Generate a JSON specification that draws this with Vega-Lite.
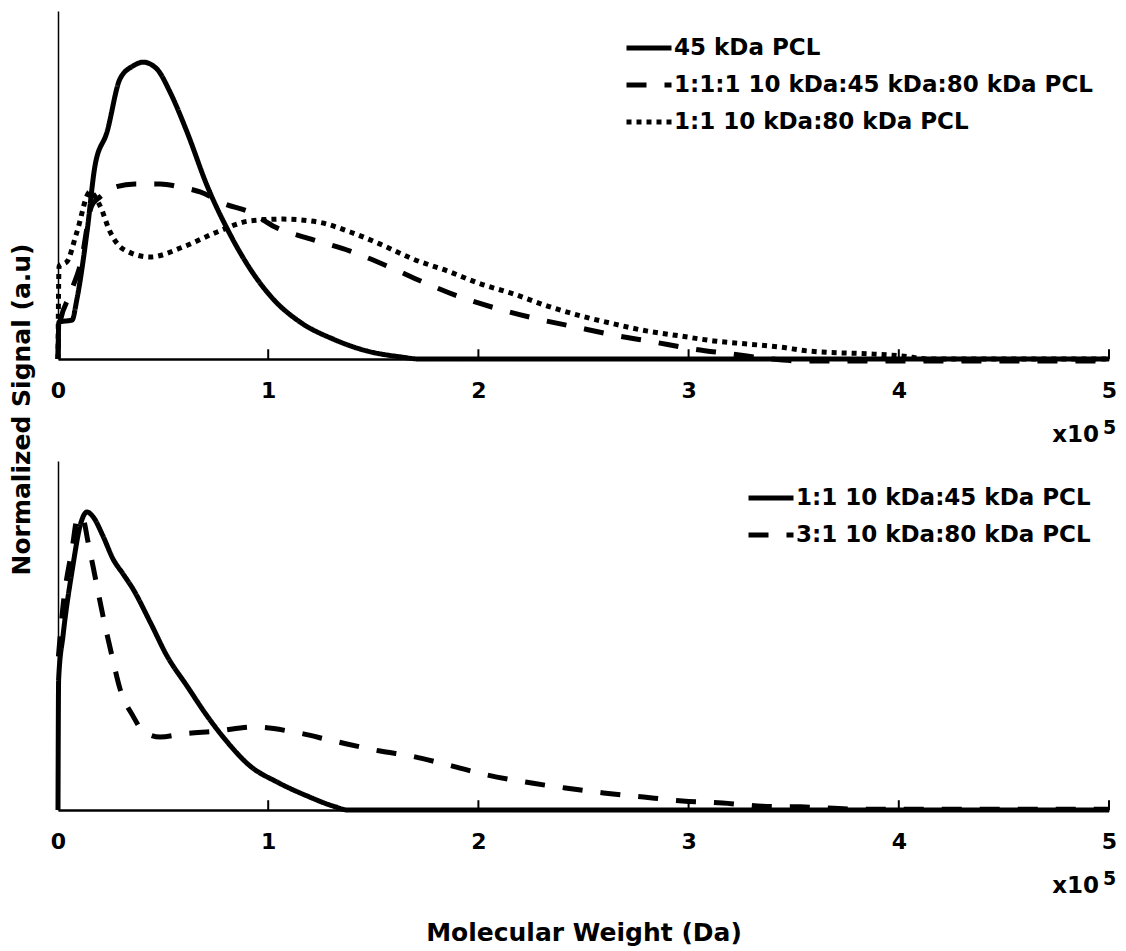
{
  "$schema": "https://vega.github.io/schema/vega-lite/v6.json",
  "background": "white",
  "padding": {"left": 9, "top": 11, "right": 8, "bottom": 5},
  "config": {
    "font": "DejaVu Sans",
    "view": {"stroke": null},
    "axis": {"grid": false, "domainColor": "black", "tickColor": "black", "labelColor": "black", "titleColor": "black"},
    "legend": {"title": null}
  },
  "datasets": {
    "ticks": [{"t": 0}, {"t": 1}, {"t": 2}, {"t": 3}, {"t": 4}, {"t": 5}],
    "top": [
      {"mw": 0, "signal": 0, "series": "45 kDa PCL"},
      {"mw": 0.004, "signal": 0.106, "series": "45 kDa PCL"},
      {"mw": 0.067, "signal": 0.112, "series": "45 kDa PCL"},
      {"mw": 0.09, "signal": 0.172, "series": "45 kDa PCL"},
      {"mw": 0.138, "signal": 0.365, "series": "45 kDa PCL"},
      {"mw": 0.176, "signal": 0.555, "series": "45 kDa PCL"},
      {"mw": 0.233, "signal": 0.652, "series": "45 kDa PCL"},
      {"mw": 0.295, "signal": 0.805, "series": "45 kDa PCL"},
      {"mw": 0.357, "signal": 0.842, "series": "45 kDa PCL"},
      {"mw": 0.405, "signal": 0.853, "series": "45 kDa PCL"},
      {"mw": 0.471, "signal": 0.833, "series": "45 kDa PCL"},
      {"mw": 0.533, "signal": 0.767, "series": "45 kDa PCL"},
      {"mw": 0.614, "signal": 0.652, "series": "45 kDa PCL"},
      {"mw": 0.71, "signal": 0.497, "series": "45 kDa PCL"},
      {"mw": 0.805, "signal": 0.374, "series": "45 kDa PCL"},
      {"mw": 0.914, "signal": 0.259, "series": "45 kDa PCL"},
      {"mw": 1.024, "signal": 0.172, "series": "45 kDa PCL"},
      {"mw": 1.152, "signal": 0.106, "series": "45 kDa PCL"},
      {"mw": 1.31, "signal": 0.057, "series": "45 kDa PCL"},
      {"mw": 1.47, "signal": 0.023, "series": "45 kDa PCL"},
      {"mw": 1.63, "signal": 0.006, "series": "45 kDa PCL"},
      {"mw": 1.72, "signal": 0, "series": "45 kDa PCL"},
      {"mw": 5, "signal": 0, "series": "45 kDa PCL"},

      {"mw": 0, "signal": 0, "series": "1:1:1 10 kDa:45 kDa:80 kDa PCL"},
      {"mw": 0.005, "signal": 0.09, "series": "1:1:1 10 kDa:45 kDa:80 kDa PCL"},
      {"mw": 0.06, "signal": 0.19, "series": "1:1:1 10 kDa:45 kDa:80 kDa PCL"},
      {"mw": 0.11, "signal": 0.28, "series": "1:1:1 10 kDa:45 kDa:80 kDa PCL"},
      {"mw": 0.16, "signal": 0.44, "series": "1:1:1 10 kDa:45 kDa:80 kDa PCL"},
      {"mw": 0.2, "signal": 0.466, "series": "1:1:1 10 kDa:45 kDa:80 kDa PCL"},
      {"mw": 0.271, "signal": 0.494, "series": "1:1:1 10 kDa:45 kDa:80 kDa PCL"},
      {"mw": 0.367, "signal": 0.503, "series": "1:1:1 10 kDa:45 kDa:80 kDa PCL"},
      {"mw": 0.486, "signal": 0.503, "series": "1:1:1 10 kDa:45 kDa:80 kDa PCL"},
      {"mw": 0.581, "signal": 0.494, "series": "1:1:1 10 kDa:45 kDa:80 kDa PCL"},
      {"mw": 0.676, "signal": 0.48, "series": "1:1:1 10 kDa:45 kDa:80 kDa PCL"},
      {"mw": 0.795, "signal": 0.445, "series": "1:1:1 10 kDa:45 kDa:80 kDa PCL"},
      {"mw": 0.914, "signal": 0.422, "series": "1:1:1 10 kDa:45 kDa:80 kDa PCL"},
      {"mw": 1.033, "signal": 0.379, "series": "1:1:1 10 kDa:45 kDa:80 kDa PCL"},
      {"mw": 1.2, "signal": 0.345, "series": "1:1:1 10 kDa:45 kDa:80 kDa PCL"},
      {"mw": 1.39, "signal": 0.31, "series": "1:1:1 10 kDa:45 kDa:80 kDa PCL"},
      {"mw": 1.567, "signal": 0.267, "series": "1:1:1 10 kDa:45 kDa:80 kDa PCL"},
      {"mw": 1.738, "signal": 0.221, "series": "1:1:1 10 kDa:45 kDa:80 kDa PCL"},
      {"mw": 1.914, "signal": 0.178, "series": "1:1:1 10 kDa:45 kDa:80 kDa PCL"},
      {"mw": 2.095, "signal": 0.144, "series": "1:1:1 10 kDa:45 kDa:80 kDa PCL"},
      {"mw": 2.281, "signal": 0.115, "series": "1:1:1 10 kDa:45 kDa:80 kDa PCL"},
      {"mw": 2.462, "signal": 0.092, "series": "1:1:1 10 kDa:45 kDa:80 kDa PCL"},
      {"mw": 2.643, "signal": 0.069, "series": "1:1:1 10 kDa:45 kDa:80 kDa PCL"},
      {"mw": 2.833, "signal": 0.049, "series": "1:1:1 10 kDa:45 kDa:80 kDa PCL"},
      {"mw": 3.019, "signal": 0.029, "series": "1:1:1 10 kDa:45 kDa:80 kDa PCL"},
      {"mw": 3.21, "signal": 0.014, "series": "1:1:1 10 kDa:45 kDa:80 kDa PCL"},
      {"mw": 3.39, "signal": 0, "series": "1:1:1 10 kDa:45 kDa:80 kDa PCL"},
      {"mw": 3.55, "signal": -0.006, "series": "1:1:1 10 kDa:45 kDa:80 kDa PCL"},
      {"mw": 5, "signal": -0.006, "series": "1:1:1 10 kDa:45 kDa:80 kDa PCL"},

      {"mw": 0, "signal": 0, "series": "1:1 10 kDa:80 kDa PCL"},
      {"mw": 0.005, "signal": 0.267, "series": "1:1 10 kDa:80 kDa PCL"},
      {"mw": 0.043, "signal": 0.28, "series": "1:1 10 kDa:80 kDa PCL"},
      {"mw": 0.09, "signal": 0.365, "series": "1:1 10 kDa:80 kDa PCL"},
      {"mw": 0.152, "signal": 0.48, "series": "1:1 10 kDa:80 kDa PCL"},
      {"mw": 0.2, "signal": 0.44, "series": "1:1 10 kDa:80 kDa PCL"},
      {"mw": 0.248, "signal": 0.365, "series": "1:1 10 kDa:80 kDa PCL"},
      {"mw": 0.31, "signal": 0.316, "series": "1:1 10 kDa:80 kDa PCL"},
      {"mw": 0.438, "signal": 0.293, "series": "1:1 10 kDa:80 kDa PCL"},
      {"mw": 0.595, "signal": 0.322, "series": "1:1 10 kDa:80 kDa PCL"},
      {"mw": 0.757, "signal": 0.365, "series": "1:1 10 kDa:80 kDa PCL"},
      {"mw": 0.914, "signal": 0.397, "series": "1:1 10 kDa:80 kDa PCL"},
      {"mw": 1.071, "signal": 0.402, "series": "1:1 10 kDa:80 kDa PCL"},
      {"mw": 1.233, "signal": 0.394, "series": "1:1 10 kDa:80 kDa PCL"},
      {"mw": 1.39, "signal": 0.365, "series": "1:1 10 kDa:80 kDa PCL"},
      {"mw": 1.533, "signal": 0.33, "series": "1:1 10 kDa:80 kDa PCL"},
      {"mw": 1.69, "signal": 0.287, "series": "1:1 10 kDa:80 kDa PCL"},
      {"mw": 1.852, "signal": 0.253, "series": "1:1 10 kDa:80 kDa PCL"},
      {"mw": 2.01, "signal": 0.216, "series": "1:1 10 kDa:80 kDa PCL"},
      {"mw": 2.167, "signal": 0.187, "series": "1:1 10 kDa:80 kDa PCL"},
      {"mw": 2.329, "signal": 0.152, "series": "1:1 10 kDa:80 kDa PCL"},
      {"mw": 2.486, "signal": 0.124, "series": "1:1 10 kDa:80 kDa PCL"},
      {"mw": 2.643, "signal": 0.101, "series": "1:1 10 kDa:80 kDa PCL"},
      {"mw": 2.805, "signal": 0.08, "series": "1:1 10 kDa:80 kDa PCL"},
      {"mw": 2.962, "signal": 0.066, "series": "1:1 10 kDa:80 kDa PCL"},
      {"mw": 3.119, "signal": 0.052, "series": "1:1 10 kDa:80 kDa PCL"},
      {"mw": 3.281, "signal": 0.043, "series": "1:1 10 kDa:80 kDa PCL"},
      {"mw": 3.438, "signal": 0.034, "series": "1:1 10 kDa:80 kDa PCL"},
      {"mw": 3.567, "signal": 0.023, "series": "1:1 10 kDa:80 kDa PCL"},
      {"mw": 3.881, "signal": 0.014, "series": "1:1 10 kDa:80 kDa PCL"},
      {"mw": 4.01, "signal": 0.009, "series": "1:1 10 kDa:80 kDa PCL"},
      {"mw": 4.15, "signal": 0, "series": "1:1 10 kDa:80 kDa PCL"},
      {"mw": 5, "signal": 0, "series": "1:1 10 kDa:80 kDa PCL"}
    ],
    "bottom": [
      {"mw": 0, "signal": 0, "series": "1:1 10 kDa:45 kDa PCL"},
      {"mw": 0.003, "signal": 0.375, "series": "1:1 10 kDa:45 kDa PCL"},
      {"mw": 0.024, "signal": 0.5, "series": "1:1 10 kDa:45 kDa PCL"},
      {"mw": 0.071, "signal": 0.7, "series": "1:1 10 kDa:45 kDa PCL"},
      {"mw": 0.105, "signal": 0.814, "series": "1:1 10 kDa:45 kDa PCL"},
      {"mw": 0.138, "signal": 0.854, "series": "1:1 10 kDa:45 kDa PCL"},
      {"mw": 0.167, "signal": 0.84, "series": "1:1 10 kDa:45 kDa PCL"},
      {"mw": 0.214, "signal": 0.785, "series": "1:1 10 kDa:45 kDa PCL"},
      {"mw": 0.262, "signal": 0.719, "series": "1:1 10 kDa:45 kDa PCL"},
      {"mw": 0.31, "signal": 0.676, "series": "1:1 10 kDa:45 kDa PCL"},
      {"mw": 0.357, "signal": 0.633, "series": "1:1 10 kDa:45 kDa PCL"},
      {"mw": 0.438, "signal": 0.539, "series": "1:1 10 kDa:45 kDa PCL"},
      {"mw": 0.519, "signal": 0.441, "series": "1:1 10 kDa:45 kDa PCL"},
      {"mw": 0.614, "signal": 0.355, "series": "1:1 10 kDa:45 kDa PCL"},
      {"mw": 0.71, "signal": 0.269, "series": "1:1 10 kDa:45 kDa PCL"},
      {"mw": 0.805, "signal": 0.195, "series": "1:1 10 kDa:45 kDa PCL"},
      {"mw": 0.914, "signal": 0.126, "series": "1:1 10 kDa:45 kDa PCL"},
      {"mw": 1.043, "signal": 0.08, "series": "1:1 10 kDa:45 kDa PCL"},
      {"mw": 1.186, "signal": 0.04, "series": "1:1 10 kDa:45 kDa PCL"},
      {"mw": 1.31, "signal": 0.011, "series": "1:1 10 kDa:45 kDa PCL"},
      {"mw": 1.38, "signal": 0, "series": "1:1 10 kDa:45 kDa PCL"},
      {"mw": 5, "signal": 0, "series": "1:1 10 kDa:45 kDa PCL"},

      {"mw": 0.002, "signal": 0.44, "series": "3:1 10 kDa:80 kDa PCL"},
      {"mw": 0.024, "signal": 0.585, "series": "3:1 10 kDa:80 kDa PCL"},
      {"mw": 0.067, "signal": 0.748, "series": "3:1 10 kDa:80 kDa PCL"},
      {"mw": 0.095, "signal": 0.842, "series": "3:1 10 kDa:80 kDa PCL"},
      {"mw": 0.119, "signal": 0.834, "series": "3:1 10 kDa:80 kDa PCL"},
      {"mw": 0.143, "signal": 0.768, "series": "3:1 10 kDa:80 kDa PCL"},
      {"mw": 0.176, "signal": 0.67, "series": "3:1 10 kDa:80 kDa PCL"},
      {"mw": 0.214, "signal": 0.556, "series": "3:1 10 kDa:80 kDa PCL"},
      {"mw": 0.257, "signal": 0.441, "series": "3:1 10 kDa:80 kDa PCL"},
      {"mw": 0.295, "signal": 0.347, "series": "3:1 10 kDa:80 kDa PCL"},
      {"mw": 0.357, "signal": 0.269, "series": "3:1 10 kDa:80 kDa PCL"},
      {"mw": 0.405, "signal": 0.226, "series": "3:1 10 kDa:80 kDa PCL"},
      {"mw": 0.486, "signal": 0.209, "series": "3:1 10 kDa:80 kDa PCL"},
      {"mw": 0.595, "signal": 0.218, "series": "3:1 10 kDa:80 kDa PCL"},
      {"mw": 0.757, "signal": 0.226, "series": "3:1 10 kDa:80 kDa PCL"},
      {"mw": 0.929, "signal": 0.238, "series": "3:1 10 kDa:80 kDa PCL"},
      {"mw": 1.119, "signal": 0.224, "series": "3:1 10 kDa:80 kDa PCL"},
      {"mw": 1.31, "signal": 0.198, "series": "3:1 10 kDa:80 kDa PCL"},
      {"mw": 1.533, "signal": 0.169, "series": "3:1 10 kDa:80 kDa PCL"},
      {"mw": 1.676, "signal": 0.155, "series": "3:1 10 kDa:80 kDa PCL"},
      {"mw": 1.857, "signal": 0.129, "series": "3:1 10 kDa:80 kDa PCL"},
      {"mw": 2.043, "signal": 0.1, "series": "3:1 10 kDa:80 kDa PCL"},
      {"mw": 2.224, "signal": 0.08, "series": "3:1 10 kDa:80 kDa PCL"},
      {"mw": 2.414, "signal": 0.063, "series": "3:1 10 kDa:80 kDa PCL"},
      {"mw": 2.595, "signal": 0.049, "series": "3:1 10 kDa:80 kDa PCL"},
      {"mw": 2.786, "signal": 0.037, "series": "3:1 10 kDa:80 kDa PCL"},
      {"mw": 2.971, "signal": 0.026, "series": "3:1 10 kDa:80 kDa PCL"},
      {"mw": 3.162, "signal": 0.02, "series": "3:1 10 kDa:80 kDa PCL"},
      {"mw": 3.352, "signal": 0.011, "series": "3:1 10 kDa:80 kDa PCL"},
      {"mw": 3.533, "signal": 0.009, "series": "3:1 10 kDa:80 kDa PCL"},
      {"mw": 3.77, "signal": 0.003, "series": "3:1 10 kDa:80 kDa PCL"},
      {"mw": 4.0, "signal": 0.002, "series": "3:1 10 kDa:80 kDa PCL"},
      {"mw": 5, "signal": 0.002, "series": "3:1 10 kDa:80 kDa PCL"}
    ]
  },
  "spacing": 102,
  "bounds": "flush",
  "resolve": {
    "scale": {"x": "independent", "y": "independent", "strokeDash": "independent"},
    "legend": {"strokeDash": "independent"}
  },
  "vconcat": [
    {
      "width": 1051,
      "height": 348,
      "layer": [
        {
          "data": {"name": "top"},
          "mark": {"type": "line", "color": "black", "strokeWidth": 5, "clip": false, "interpolate": "monotone"},
          "encoding": {
            "x": {
              "field": "mw", "type": "quantitative",
              "scale": {"domain": [0, 5], "nice": false, "zero": false},
              "axis": {
                "values": [0, 1, 2, 3, 4, 5], "format": "d", "title": null,
                "domainWidth": 2.5, "ticks": false,
                "labelFont": "DejaVu Sans", "labelFontWeight": "bold", "labelFontSize": 22,
                "labelPadding": 21, "labelFlush": false
              }
            },
            "y": {
              "field": "signal", "type": "quantitative",
              "scale": {"domain": [0, 1], "nice": false, "zero": false},
              "axis": {
                "title": "Normalized Signal (a.u)", "ticks": false, "labels": false,
                "domainWidth": 1.5,
                "titleFont": "DejaVu Sans", "titleFontWeight": "bold", "titleFontSize": 25,
                "titleAngle": -90, "titleX": -37, "titleY": 398,
                "titleAlign": "center", "titleBaseline": "middle"
              }
            },
            "strokeDash": {
              "field": "series", "type": "nominal",
              "scale": {
                "domain": ["45 kDa PCL", "1:1:1 10 kDa:45 kDa:80 kDa PCL", "1:1 10 kDa:80 kDa PCL"],
                "range": [[1, 0], [20, 18], [5, 5]]
              },
              "legend": {
                "orient": "none", "legendX": 566, "legendY": 12,
                "symbolType": "stroke", "symbolSize": 2025, "symbolStrokeWidth": 5,
                "symbolStrokeColor": "black",
                "labelFont": "DejaVu Sans", "labelFontWeight": "bold", "labelFontSize": 23,
                "labelColor": "black", "labelOffset": 0, "labelLimit": 600,
                "rowPadding": 0, "padding": 0
              }
            }
          }
        },
        {
          "data": {"name": "ticks"},
          "mark": {"type": "rule", "color": "black", "strokeWidth": 2},
          "encoding": {
            "x": {"field": "t", "type": "quantitative"},
            "y": {"datum": 0},
            "y2": {"datum": 0.028}
          }
        },
        {
          "data": {"values": [{}]},
          "mark": {"type": "text", "text": "x10", "font": "DejaVu Sans", "fontWeight": "bold", "fontSize": 23, "align": "right", "baseline": "alphabetic", "dx": -10, "dy": 83, "color": "black"},
          "encoding": {"x": {"datum": 5}, "y": {"datum": 0}}
        },
        {
          "data": {"values": [{}]},
          "mark": {"type": "text", "text": "5", "font": "DejaVu Sans", "fontWeight": "bold", "fontSize": 19, "align": "left", "baseline": "alphabetic", "dx": -6, "dy": 75, "color": "black"},
          "encoding": {"x": {"datum": 5}, "y": {"datum": 0}}
        }
      ]
    },
    {
      "width": 1051,
      "height": 349,
      "layer": [
        {
          "data": {"name": "bottom"},
          "mark": {"type": "line", "color": "black", "strokeWidth": 5, "clip": false, "interpolate": "monotone"},
          "encoding": {
            "x": {
              "field": "mw", "type": "quantitative",
              "scale": {"domain": [0, 5], "nice": false, "zero": false},
              "axis": {
                "values": [0, 1, 2, 3, 4, 5], "format": "d", "title": "Molecular Weight (Da)",
                "domainWidth": 2.5, "ticks": false,
                "labelFont": "DejaVu Sans", "labelFontWeight": "bold", "labelFontSize": 22,
                "labelPadding": 21, "labelFlush": false,
                "titleFont": "DejaVu Sans", "titleFontWeight": "bold", "titleFontSize": 25,
                "titlePadding": 68
              }
            },
            "y": {
              "field": "signal", "type": "quantitative",
              "scale": {"domain": [0, 1], "nice": false, "zero": false},
              "axis": {"title": null, "ticks": false, "labels": false, "domainWidth": 1.5}
            },
            "strokeDash": {
              "field": "series", "type": "nominal",
              "scale": {
                "domain": ["1:1 10 kDa:45 kDa PCL", "3:1 10 kDa:80 kDa PCL"],
                "range": [[1, 0], [20, 18]]
              },
              "legend": {
                "orient": "none", "legendX": 688, "legendY": 12,
                "symbolType": "stroke", "symbolSize": 2025, "symbolStrokeWidth": 5,
                "symbolStrokeColor": "black",
                "labelFont": "DejaVu Sans", "labelFontWeight": "bold", "labelFontSize": 23,
                "labelColor": "black", "labelOffset": 0, "labelLimit": 600,
                "rowPadding": -2, "padding": 0
              }
            }
          }
        },
        {
          "data": {"name": "ticks"},
          "mark": {"type": "rule", "color": "black", "strokeWidth": 2},
          "encoding": {
            "x": {"field": "t", "type": "quantitative"},
            "y": {"datum": 0},
            "y2": {"datum": 0.028}
          }
        },
        {
          "data": {"values": [{}]},
          "mark": {"type": "text", "text": "x10", "font": "DejaVu Sans", "fontWeight": "bold", "fontSize": 23, "align": "right", "baseline": "alphabetic", "dx": -10, "dy": 83, "color": "black"},
          "encoding": {"x": {"datum": 5}, "y": {"datum": 0}}
        },
        {
          "data": {"values": [{}]},
          "mark": {"type": "text", "text": "5", "font": "DejaVu Sans", "fontWeight": "bold", "fontSize": 19, "align": "left", "baseline": "alphabetic", "dx": -6, "dy": 75, "color": "black"},
          "encoding": {"x": {"datum": 5}, "y": {"datum": 0}}
        }
      ]
    }
  ]
}
